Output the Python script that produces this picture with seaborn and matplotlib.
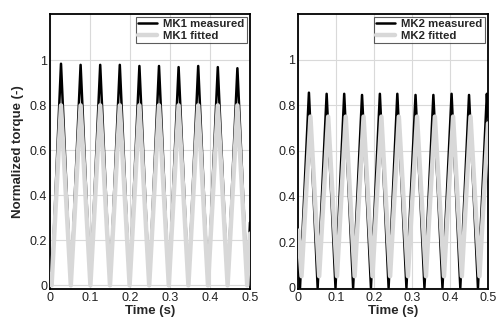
import matplotlib
matplotlib.use("Agg")
import matplotlib.pyplot as plt
import seaborn as sns
import pandas as pd
from matplotlib.ticker import FuncFormatter

sns.set_style("white")
plt.rcParams['font.family'] = ['Liberation Sans', 'DejaVu Sans']

# ---- MK1 (left panel) ----
mk1_meas_t = [0.000, 0.004, 0.0275, 0.052, 0.0765, 0.101, 0.1255, 0.150, 0.1745, 0.199,
              0.2235, 0.248, 0.2725, 0.297, 0.3215, 0.346, 0.3705, 0.395, 0.4195, 0.444,
              0.4685, 0.493, 0.500]
mk1_meas_y = [0.06, 0.00, 0.985, 0.00, 0.980, 0.00, 0.980, 0.00, 0.980, 0.00,
              0.975, 0.00, 0.975, 0.00, 0.970, 0.00, 0.975, 0.00, 0.970, 0.00,
              0.965, 0.00, 0.28]
mk1_fit_t = [0.000, 0.004, 0.0275, 0.052, 0.0765, 0.101, 0.1255, 0.150, 0.1745, 0.199,
             0.2235, 0.248, 0.2725, 0.297, 0.3215, 0.346, 0.3705, 0.395, 0.4195, 0.444,
             0.4685, 0.493, 0.500]
mk1_fit_y = [0.05, 0.00, 0.80, 0.00, 0.80, 0.00, 0.80, 0.00, 0.80, 0.00,
             0.80, 0.00, 0.80, 0.00, 0.80, 0.00, 0.80, 0.00, 0.80, 0.00,
             0.80, 0.00, 0.23]

# ---- MK2 (right panel) ----
mk2_meas_t = [0.000, 0.0045, 0.028, 0.051, 0.0747, 0.098, 0.121, 0.1445, 0.168, 0.1915,
              0.215, 0.238, 0.261, 0.285, 0.309, 0.3325, 0.356, 0.380, 0.404, 0.427,
              0.450, 0.4735, 0.497, 0.500]
mk2_meas_y = [0.15, 0.00, 0.855, 0.00, 0.850, 0.00, 0.850, 0.00, 0.845, 0.00,
              0.850, 0.00, 0.850, 0.00, 0.845, 0.00, 0.845, 0.00, 0.850, 0.00,
              0.845, 0.00, 0.850, 0.75]
mk2_fit_t = [0.000, 0.0085, 0.032, 0.055, 0.0787, 0.102, 0.125, 0.1485, 0.172, 0.1955,
             0.219, 0.242, 0.265, 0.289, 0.313, 0.3365, 0.360, 0.384, 0.408, 0.431,
             0.454, 0.4775, 0.500]
mk2_fit_y = [0.25, 0.05, 0.75, 0.05, 0.75, 0.05, 0.75, 0.05, 0.75, 0.05,
             0.75, 0.05, 0.75, 0.05, 0.75, 0.05, 0.75, 0.05, 0.75, 0.05,
             0.75, 0.05, 0.72]

yticks = [0, 0.2, 0.4, 0.6, 0.8, 1]
xticks = [0, 0.1, 0.2, 0.3, 0.4, 0.5]

fig = plt.figure(figsize=(4.97, 3.2), dpi=100)
ax1 = fig.add_axes([50 / 497, 1 - 289 / 320, 200 / 497, 275 / 320])
ax2 = fig.add_axes([298.3 / 497, 1 - 289 / 320, 189.7 / 497, 275 / 320])

fmt = FuncFormatter(lambda v, p: f"{v:g}")

panels = [
    (ax1, "MK1", mk1_meas_t, mk1_meas_y, mk1_fit_t, mk1_fit_y, (-0.016, 1.206)),
    (ax2, "MK2", mk2_meas_t, mk2_meas_y, mk2_fit_t, mk2_fit_y, (-0.006, 1.2)),
]

for ax, name, mt, my, ft, fy, ylim in panels:
    dm = pd.DataFrame({"t": mt, "y": my})
    df = pd.DataFrame({"t": ft, "y": fy})
    sns.lineplot(data=dm, x="t", y="y", ax=ax, color="black", linewidth=1.8,
                 estimator=None, label=f"{name} measured", zorder=3)
    sns.lineplot(data=df, x="t", y="y", ax=ax, color="#d8d8d8", linewidth=3.2,
                 estimator=None, label=f"{name} fitted", zorder=4)
    ax.set_xlim(0, 0.5)
    ax.set_ylim(*ylim)
    ax.set_xticks(xticks)
    ax.set_yticks(yticks)
    ax.xaxis.set_major_formatter(fmt)
    ax.yaxis.set_major_formatter(fmt)
    ax.grid(True, color="#d9d9d9", linewidth=0.8)
    ax.set_axisbelow(True)
    ax.tick_params(length=0, labelsize=9, pad=2, colors="#222222")
    for s in ax.spines.values():
        s.set_color("black")
        s.set_linewidth(1.3)
    ax.set_xlabel("Time (s)", fontsize=9.5, fontweight="bold", labelpad=1)
    ax.set_ylabel("")
    leg = ax.legend(loc="upper right", prop={"weight": "bold", "size": 8.2},
                    frameon=True, fancybox=False, borderpad=0.22, labelspacing=0.12,
                    handlelength=1.6, handletextpad=0.6, borderaxespad=0.25)
    leg.get_frame().set_edgecolor("#333333")
    leg.get_frame().set_linewidth(0.8)

ax1.set_ylabel("Normalized torque (-)", fontsize=9.5, fontweight="bold", labelpad=4)

fig.savefig("out.png", dpi=100)
